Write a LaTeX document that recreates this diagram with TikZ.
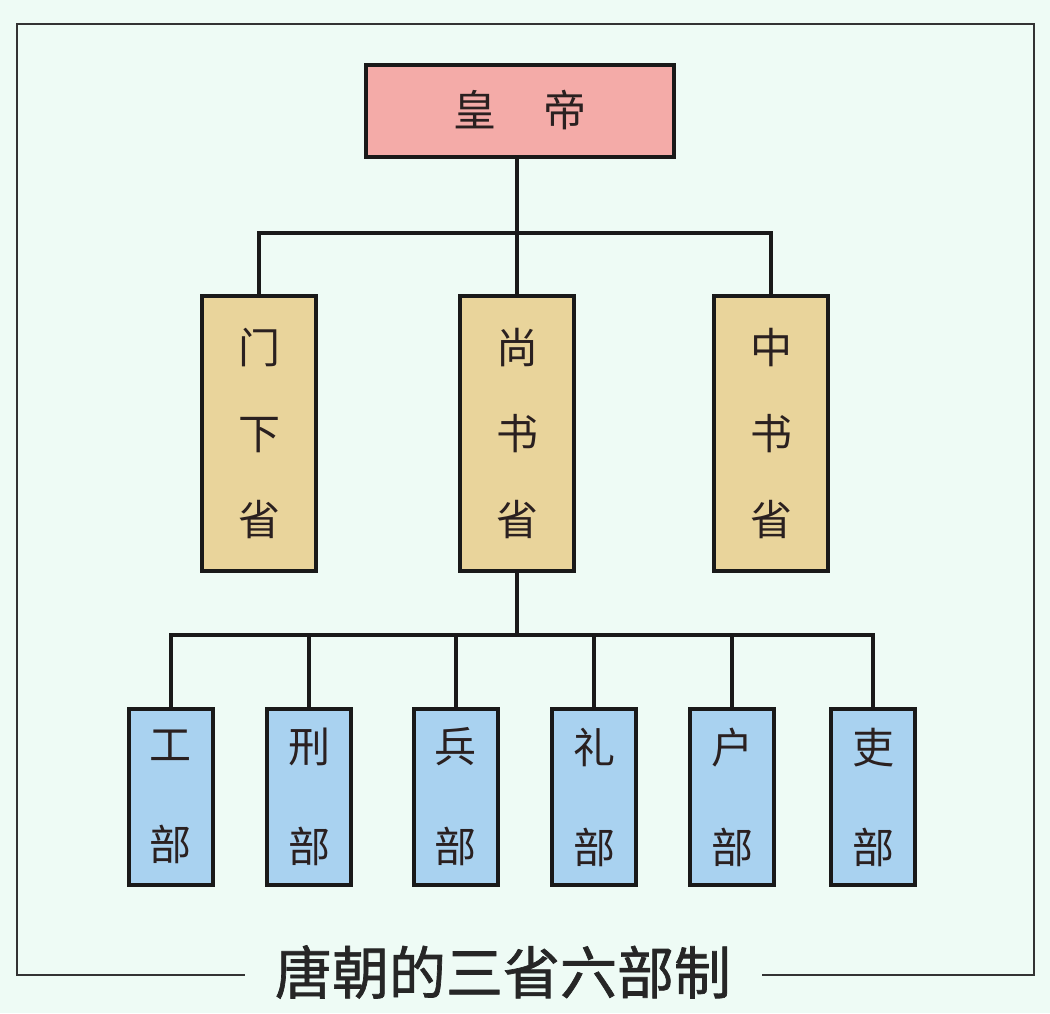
\documentclass[tikz,border=0pt]{standalone}
\usepackage{fontspec}
\newfontfamily\cjk{Noto Sans CJK SC}
\newfontfamily\cjkt[FakeBold=1.2]{Noto Sans CJK SC}
\definecolor{bgc}{HTML}{EEFBF5}
\definecolor{pinkc}{HTML}{F4ABA8}
\definecolor{tanc}{HTML}{E9D49B}
\definecolor{bluec}{HTML}{A9D2F0}
\definecolor{txtc}{HTML}{2A2020}
\tikzset{
  box/.style={draw=black!90, line width=4pt, inner sep=0pt, text=txtc},
  top/.style={box, fill=pinkc, minimum width=308pt, minimum height=92pt, font=\cjk\fontsize{43}{48}\selectfont},
  mid/.style={box, fill=tanc, minimum width=114pt, minimum height=275pt, align=center, font=\cjk\fontsize{42}{86}\selectfont},
  bot/.style={box, fill=bluec, minimum width=84pt, minimum height=176pt, align=center, font=\cjk\fontsize{42}{100}\selectfont},
  conn/.style={draw=black!90, line width=4pt},
  frame/.style={draw=black!80, line width=2pt}
}
\begin{document}
\begin{tikzpicture}[x=1pt,y=-1pt]
\fill[bgc] (0,0) rectangle (1050,1013);
\useasboundingbox (0,0) rectangle (1050,1013);
% frame
\node[font=\cjkt\fontsize{57}{64}\selectfont, text=black!85, inner sep=0pt] (title) at (503,972) {唐朝的三省六部制};
\coordinate (fl) at (17,975);
\coordinate (fr) at (1034,975);
\draw[frame] (title.west) ++(-30,3) coordinate (tl) -- (fl |- tl) -- (17,24) -- (1034,24) -- (fr |- tl) -- ++(-272,0);
% top
\node[top] (hd) at (520,110.5) {皇\hspace{1.1em}帝};
% provinces
\node[mid] (mx) at (259,433.5) {门\\下\\省};
\node[mid] (ss) at (517,433.5) {尚\\书\\省};
\node[mid] (zs) at (771,433.5) {中\\书\\省};
% ministries
\node[bot] (gb) at (170.5,797) {工\\部};
\node[bot] (xb) at (309,797) {刑\\部};
\node[bot] (bb) at (455.5,797) {兵\\部};
\node[bot] (lb) at (594,797) {礼\\部};
\node[bot] (hb) at (732,797) {户\\部};
\node[bot] (lib) at (873,797) {吏\\部};
% connectors
\coordinate (j1) at (517,233);
\coordinate (j2) at (517,635);
\draw[conn] (hd.south -| j1) -- (j1);
\draw[conn] (mx.north) |- (j1) -| (zs.north);
\draw[conn] (ss.north) -- (j1);
\draw[conn] (ss.south) -- (j2);
\draw[conn] (gb.north) |- (j2) -| (lib.north);
\draw[conn] (xb.north) -- (xb.north |- j2);
\draw[conn] (bb.north) -- (bb.north |- j2);
\draw[conn] (lb.north) -- (lb.north |- j2);
\draw[conn] (hb.north) -- (hb.north |- j2);
\end{tikzpicture}
\end{document}
